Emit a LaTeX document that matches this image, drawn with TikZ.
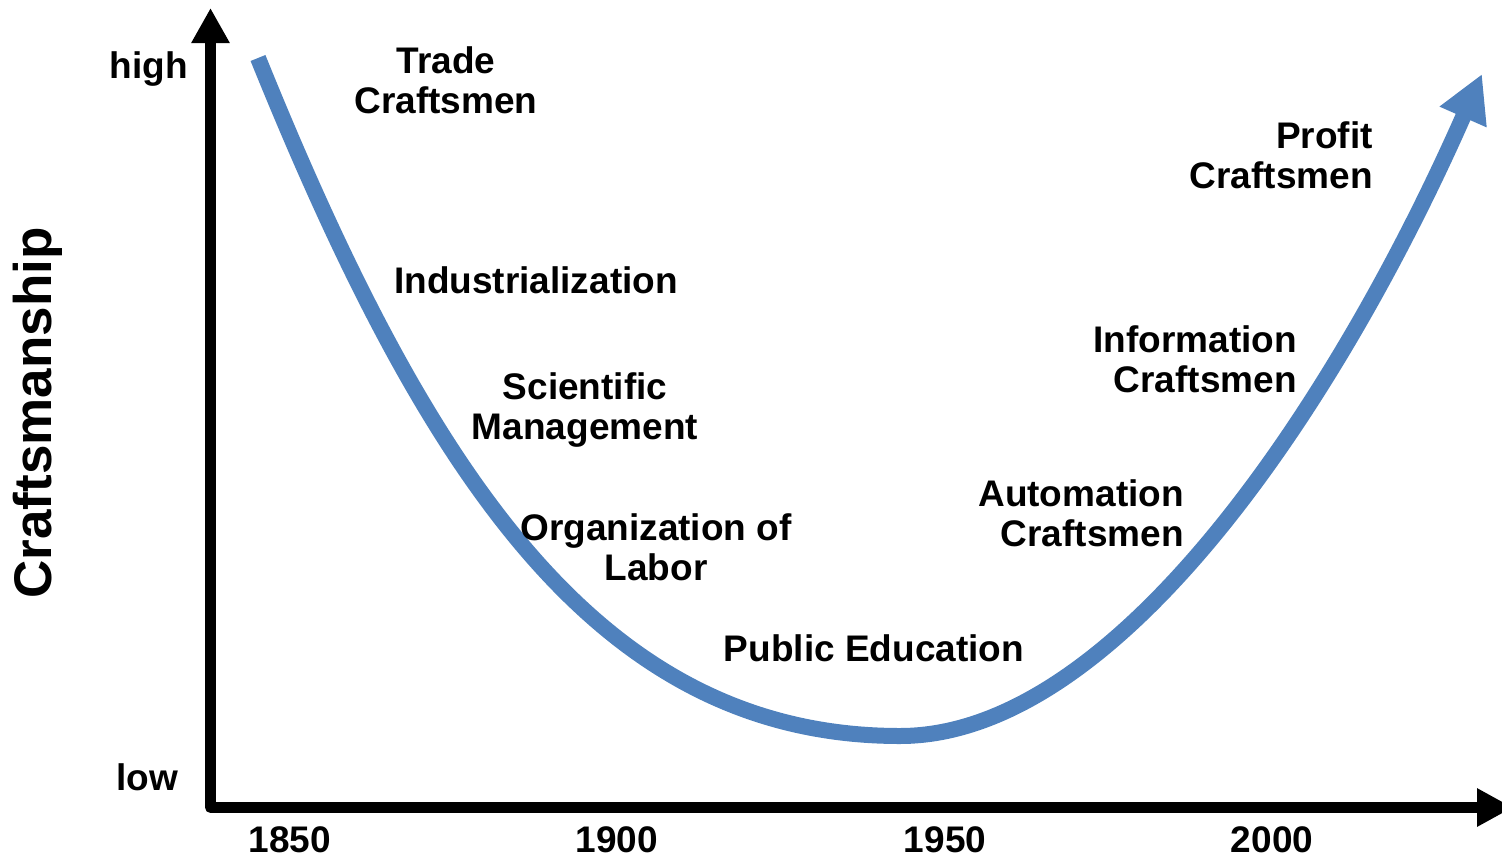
\documentclass[tikz,border=0pt]{standalone}
\usepackage{fontspec}
\setmainfont{Liberation Sans}
\usetikzlibrary{arrows.meta}
\definecolor{curveblue}{HTML}{4F81BD}
\begin{document}
\begin{tikzpicture}[x=1bp,y=-1bp,
  lbl/.style={font=\bfseries\fontsize{37bp}{40bp}\selectfont, inner sep=0pt, align=center, text=black},
  axisline/.style={line width=11bp, line join=round, {Triangle[length=35bp,width=36bp]}-{Triangle[length=36bp,width=36bp]}},
  trend/.style={line width=16bp, draw=curveblue, -{Triangle[length=47bp,width=48bp]}}]
\useasboundingbox (0,0) rectangle (1502,859);
% axes
\coordinate (ytip) at (210.5,8);
\coordinate (origin) at (210.5,807.5);
\coordinate (xtip) at (1513,807.5);
\draw[axisline] (ytip) -- (origin) -- (xtip);
% trend curve
\coordinate (cstart) at (258,58);
\coordinate (cmin) at (900,736);
\coordinate (cend) at (1482,74);
\draw[trend] (cstart) .. controls (428,478) and (600,736) .. (cmin)
  .. controls (1120,736) and (1341,394) .. (cend);
% axis labels
\node[lbl] (high) at (149,69) {high};
\node[lbl] (low) at (147,777) {low};
\node[lbl] (y1850) at (290,840) {1850};
\node[lbl] (y1900) at (617,840) {1900};
\node[lbl] (y1950) at (945,840) {1950};
\node[lbl] (y2000) at (1272,840) {2000};
\node[lbl, font=\bfseries\fontsize{53bp}{56bp}\selectfont, rotate=90] (ylab) at (38,413) {Craftsmanship};
% stage labels
\node[lbl] (trade) at (446,80) {Trade\\Craftsmen};
\node[lbl] (indus) at (536,280) {Industrialization};
\node[lbl] (sci) at (585,410) {Scientific\\Management};
\node[lbl] (org) at (656,547) {Organization of\\Labor};
\node[lbl] (pub) at (874,648) {Public Education};
\node[lbl, align=right, anchor=east] (auto) at (1184,513) {Automation\\Craftsmen};
\node[lbl, align=right, anchor=east] (info) at (1297,359) {Information\\Craftsmen};
\node[lbl, align=right, anchor=east] (profit) at (1373,155) {Profit\\Craftsmen};
\end{tikzpicture}
\end{document}
